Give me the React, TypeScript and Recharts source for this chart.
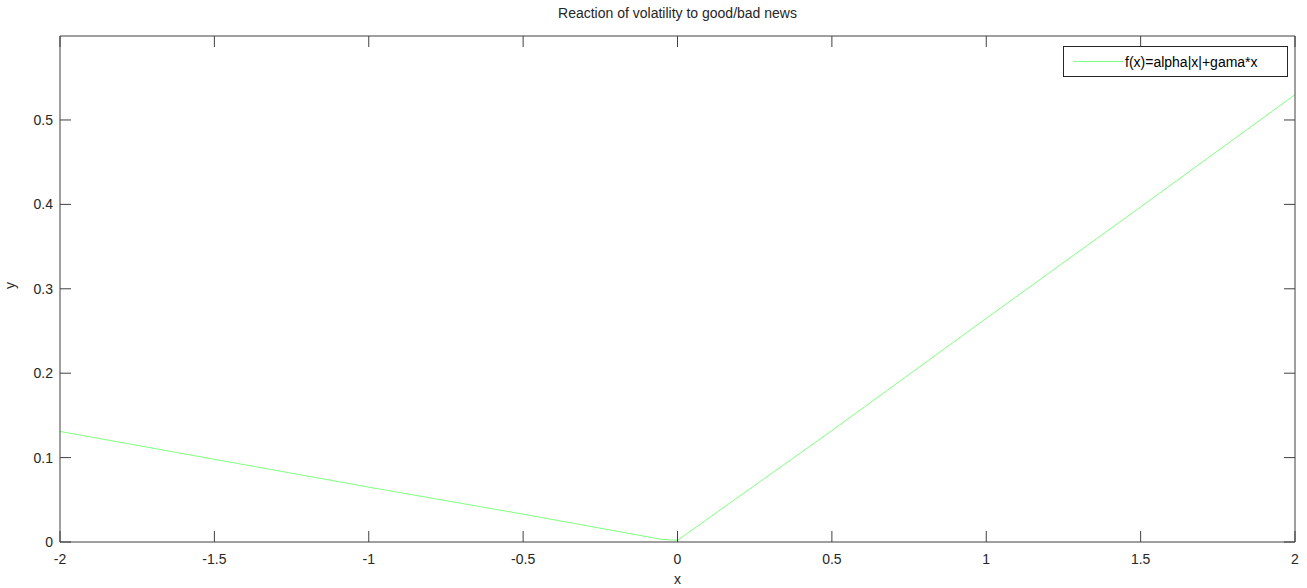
import React from 'react';
import { LineChart, Line, XAxis, YAxis } from 'recharts';

const xValues = [-2, -1.5, -1, -0.5, -0.05, 0, 0.5, 1, 1.5, 2];
const yValues = [0.131, 0.098, 0.065, 0.033, 0.003, 0.002, 0.132, 0.265, 0.397, 0.53];
const xTicks = [-2, -1.5, -1, -0.5, 0, 0.5, 1, 1.5, 2];
const yTicks = [0, 0.1, 0.2, 0.3, 0.4, 0.5];
const seriesName = 'f(x)=alpha|x|+gama*x';
const title = 'Reaction of volatility to good/bad news';

const data = xValues.map((x, i) => ({ x, y: yValues[i] }));

const axisColor = '#404040';
const textColor = '#262626';
const lineColor = '#80ff80';
const font = '"Liberation Sans Narrow", "Liberation Sans", Arial, sans-serif';

const NoLabel = () => <g />;

const App: React.FC = () => {
  return (
    <div style={{ position: 'absolute', left: 0, top: 0, width: 1307, height: 588, background: '#fff' }}>
      <div
        style={{
          position: 'absolute',
          top: 5,
          left: 60,
          width: 1235,
          textAlign: 'center',
          fontFamily: font,
          fontSize: 14,
          color: textColor,
        }}
      >
        {title}
      </div>
      <LineChart width={1307} height={588} data={data} margin={{ top: 16, right: 0, bottom: 0, left: 0 }}>
        <XAxis
          xAxisId="bottom"
          dataKey="x"
          type="number"
          domain={[-2, 2]}
          ticks={xTicks}
          allowDataOverflow
          height={46}
          tickSize={-11}
          tickMargin={23}
          stroke={axisColor}
          tick={{ fill: textColor, fontSize: 14, fontFamily: font }}
          label={{ value: 'x', position: 'insideBottom', offset: 4, fill: textColor, fontSize: 14, fontFamily: font }}
        />
        <XAxis
          xAxisId="top"
          orientation="top"
          dataKey="x"
          type="number"
          domain={[-2, 2]}
          ticks={xTicks}
          allowDataOverflow
          height={20}
          tickSize={-11}
          tick={NoLabel}
          stroke={axisColor}
        />
        <YAxis
          yAxisId="left"
          type="number"
          domain={[0, 0.5995]}
          ticks={yTicks}
          allowDataOverflow
          width={60}
          tickSize={-11}
          tickMargin={18}
          stroke={axisColor}
          tick={{ fill: textColor, fontSize: 14, fontFamily: font }}
          label={{ value: 'y', angle: -90, position: 'insideLeft', offset: 10, fill: textColor, fontSize: 14, fontFamily: font }}
        />
        <YAxis
          yAxisId="right"
          orientation="right"
          type="number"
          domain={[0, 0.5995]}
          ticks={yTicks}
          allowDataOverflow
          width={12}
          tickSize={-11}
          tick={NoLabel}
          stroke={axisColor}
        />
        <Line
          xAxisId="bottom"
          yAxisId="left"
          dataKey="y"
          name={seriesName}
          stroke={lineColor}
          strokeWidth={1}
          dot={false}
          type="linear"
          isAnimationActive={false}
        />
      </LineChart>
      <div
        style={{
          position: 'absolute',
          top: 46,
          left: 1063,
          width: 225,
          height: 31,
          border: '1px solid #262626',
          background: '#fff',
          display: 'flex',
          alignItems: 'center',
          fontFamily: font,
          fontSize: 14,
          color: '#000',
          boxSizing: 'border-box',
        }}
      >
        <span style={{ display: 'inline-block', width: 50, height: 1, background: lineColor, marginLeft: 9, marginRight: 2 }} />
        <span>{seriesName}</span>
      </div>
    </div>
  );
};

export default App;
